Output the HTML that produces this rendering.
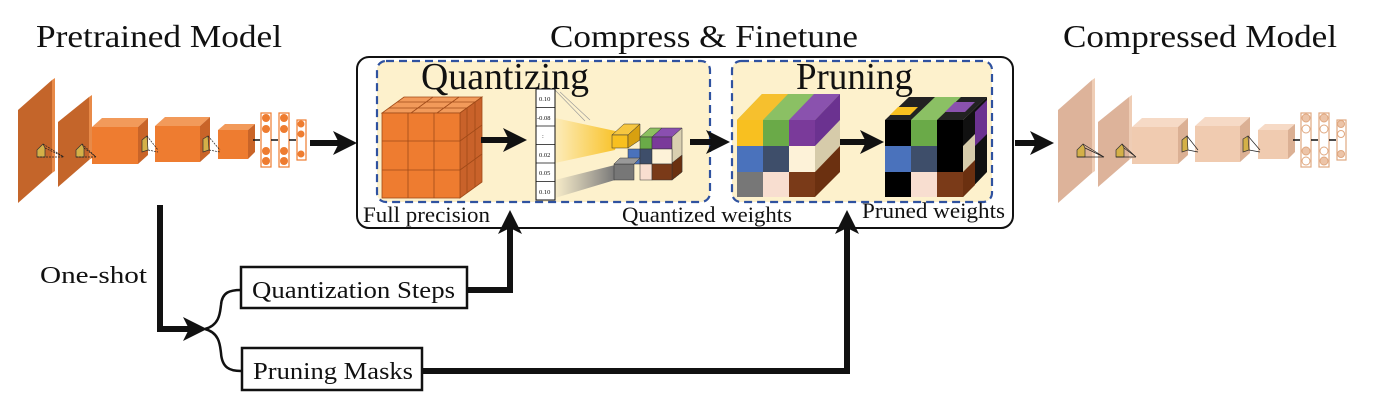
<!DOCTYPE html>
<html><head><meta charset="utf-8"><style>
html,body{margin:0;padding:0;background:#fff}
svg{display:block}
text{font-family:"Liberation Serif",serif;fill:#111}
</style></head><body>
<svg width="1388" height="408" viewBox="0 0 1388 408" xmlns="http://www.w3.org/2000/svg">
<defs>
<marker id="ah" markerWidth="4" markerHeight="4" refX="2" refY="2" orient="auto" markerUnits="strokeWidth"><path d="M0,0 L4,2 L0,4 L1,2 z" fill="#111"/></marker>
<linearGradient id="gy" x1="0" x2="1"><stop offset="0" stop-color="#f8c020" stop-opacity="0.1"/><stop offset="1" stop-color="#f8c020"/></linearGradient>
<linearGradient id="gg" x1="0" x2="1"><stop offset="0" stop-color="#888" stop-opacity="0.05"/><stop offset="1" stop-color="#777"/></linearGradient>
</defs>

<!-- titles -->
<text x="36" y="47" font-size="32" textLength="246" lengthAdjust="spacingAndGlyphs">Pretrained Model</text>
<text x="550" y="47" font-size="32" textLength="308" lengthAdjust="spacingAndGlyphs">Compress &amp; Finetune</text>
<text x="1063" y="47" font-size="32" textLength="274" lengthAdjust="spacingAndGlyphs">Compressed Model</text>

<!-- left CNN -->
<g>
 <polygon points="18,110 52,80 52,173 18,203" fill="#c4652a"/>
 <polygon points="52,80 55,78 55,171 52,173" fill="#e88a48"/>
 <polygon points="58,122 89,97 89,160 58,187" fill="#c4652a"/>
 <polygon points="89,97 92,95 92,158 89,160" fill="#e88a48"/>
 <rect x="92" y="127" width="46" height="37" fill="#ee7c30"/>
 <polygon points="92,127 102,118 148,118 138,127" fill="#f29a5a"/>
 <polygon points="138,127 148,118 148,155 138,164" fill="#c96428"/>
 <rect x="155" y="126" width="45" height="36" fill="#ee7c30"/>
 <polygon points="155,126 165,117 210,117 200,126" fill="#f29a5a"/>
 <polygon points="200,126 210,117 210,153 200,162" fill="#c96428"/>
 <rect x="218" y="130" width="30" height="29" fill="#ee7c30"/>
 <polygon points="218,130 225,124 255,124 248,130" fill="#f29a5a"/>
 <polygon points="248,130 255,124 255,152 248,159" fill="#c96428"/>
 <g fill="#d4b048" stroke="#333" stroke-width="0.7">
  <polygon points="37,150 43,144 45,148 45,157 37,157"/>
  <polygon points="76,150 82,144 84,148 84,157 76,157"/>
  <polygon points="142,140 147,136 148,150 142,152"/>
  <polygon points="203,139 208,136 209,150 203,152"/>
 </g>
 <g stroke="#222" stroke-width="0.7" fill="none" stroke-dasharray="2,1">
  <path d="M43,144 L64,157 M45,148 L64,157 M37,157 L64,157"/>
  <path d="M82,144 L96,157 M84,148 L96,157 M76,157 L96,157"/>
  <path d="M147,136 L158,150 M148,150 L158,152"/>
  <path d="M208,136 L220,150 M209,150 L220,152"/>
 </g>
 <g fill="#fff" stroke="#ee7c30" stroke-width="1.2">
  <rect x="261" y="113" width="10" height="54"/><rect x="279" y="113" width="10" height="54"/><rect x="297" y="120" width="9" height="40"/>
 </g>
 <g fill="#ee7c30">
  <circle cx="266" cy="118" r="4"/><circle cx="266" cy="129" r="4"/><circle cx="266" cy="151" r="4"/><circle cx="266" cy="161" r="4"/>
  <circle cx="284" cy="118" r="4"/><circle cx="284" cy="129" r="4"/><circle cx="284" cy="151" r="4"/><circle cx="284" cy="161" r="4"/>
  <circle cx="301" cy="124" r="3.5"/><circle cx="301" cy="134" r="3.5"/><circle cx="301" cy="154" r="3.5"/>
 </g>
 <g stroke="#111" stroke-width="1.5"><path d="M253,140 L260,140 M271,140 L278,140 M289,140 L296,140"/></g>
</g>
<line x1="310" y1="143" x2="345" y2="143" stroke="#111" stroke-width="6" marker-end="url(#ah)"/>

<!-- right CNN -->
<g transform="translate(1040,0)">
 <polygon points="18,110 52,80 52,173 18,203" fill="#ddb39a"/>
 <polygon points="52,80 55,78 55,171 52,173" fill="#efcdb5"/>
 <polygon points="58,122 89,97 89,160 58,187" fill="#ddb39a"/>
 <polygon points="89,97 92,95 92,158 89,160" fill="#efcdb5"/>
 <rect x="92" y="127" width="46" height="37" fill="#f0cbb0"/>
 <polygon points="92,127 102,118 148,118 138,127" fill="#f6dac6"/>
 <polygon points="138,127 148,118 148,155 138,164" fill="#dbb094"/>
 <rect x="155" y="126" width="45" height="36" fill="#f0cbb0"/>
 <polygon points="155,126 165,117 210,117 200,126" fill="#f6dac6"/>
 <polygon points="200,126 210,117 210,153 200,162" fill="#dbb094"/>
 <rect x="218" y="130" width="30" height="29" fill="#f0cbb0"/>
 <polygon points="218,130 225,124 255,124 248,130" fill="#f6dac6"/>
 <polygon points="248,130 255,124 255,152 248,159" fill="#dbb094"/>
 <g fill="#d4b048" stroke="#333" stroke-width="0.7">
  <polygon points="37,150 43,144 45,148 45,157 37,157"/>
  <polygon points="76,150 82,144 84,148 84,157 76,157"/>
  <polygon points="142,140 147,136 148,150 142,152"/>
  <polygon points="203,139 208,136 209,150 203,152"/>
 </g>
 <g stroke="#222" stroke-width="0.7" fill="none">
  <path d="M43,144 L64,157 M45,148 L64,157 M37,157 L64,157"/>
  <path d="M82,144 L96,157 M84,148 L96,157 M76,157 L96,157"/>
  <path d="M147,136 L158,150 M148,150 L158,152"/>
  <path d="M208,136 L220,150 M209,150 L220,152"/>
 </g>
 <g fill="#fff" stroke="#e0a880" stroke-width="1.2">
  <rect x="261" y="113" width="10" height="54"/><rect x="279" y="113" width="10" height="54"/><rect x="297" y="120" width="9" height="40"/>
 </g>
 <g fill="#fff" stroke="#e0a880" stroke-width="1">
  <circle cx="266" cy="118" r="4" fill="#ecc4a8"/><circle cx="266" cy="129" r="4"/><circle cx="266" cy="151" r="4" fill="#ecc4a8"/><circle cx="266" cy="161" r="4"/>
  <circle cx="284" cy="118" r="4" fill="#ecc4a8"/><circle cx="284" cy="129" r="4"/><circle cx="284" cy="151" r="4"/><circle cx="284" cy="161" r="4" fill="#ecc4a8"/>
  <circle cx="301" cy="124" r="3.5" fill="#ecc4a8"/><circle cx="301" cy="134" r="3.5"/><circle cx="301" cy="154" r="3.5" fill="#ecc4a8"/>
 </g>
 <g stroke="#111" stroke-width="1.5"><path d="M253,140 L260,140 M271,140 L278,140 M289,140 L296,140"/></g>
</g>
<line x1="1015" y1="143" x2="1042" y2="143" stroke="#111" stroke-width="6" marker-end="url(#ah)"/>

<!-- main box -->
<rect x="357" y="57" width="656" height="171" rx="12" fill="#fff" stroke="#111" stroke-width="2"/>
<rect x="377" y="61" width="333" height="141" rx="9" fill="#fdf1cc" stroke="#2f52a0" stroke-width="2.2" stroke-dasharray="8,5"/>
<rect x="732" y="61" width="260" height="141" rx="9" fill="#fdf1cc" stroke="#2f52a0" stroke-width="2.2" stroke-dasharray="8,5"/>
<text x="421" y="89" font-size="38" textLength="168" lengthAdjust="spacingAndGlyphs">Quantizing</text>
<text x="796" y="89" font-size="38" textLength="117" lengthAdjust="spacingAndGlyphs">Pruning</text>

<!-- quant cube -->
<g stroke="#a04a18" stroke-width="0.8">
 <polygon points="382,113 460,113 482,97 404,97" fill="#f29a5a"/>
 <polygon points="460,113 482,97 482,182 460,198" fill="#c9622a"/>
 <rect x="382" y="113" width="78" height="85" fill="#ee7c30"/>
 <path d="M408,113 L408,198 M434,113 L434,198 M382,141 L460,141 M382,170 L460,170 M389,108 L467,108 M397,102 L475,102 M411,113 L433,97 M437,113 L459,97 M460,141 L482,125 M460,170 L482,154 M467,108 L467,193 M475,102 L475,187" fill="none"/>
</g>
<line x1="481" y1="140" x2="515" y2="140" stroke="#111" stroke-width="6" marker-end="url(#ah)"/>
<!-- beams -->
<polygon points="555,118 620,132 615,150 555,163" fill="url(#gy)"/>
<polygon points="555,180 615,165 615,180 555,198" fill="url(#gg)"/>
<path d="M555,90 L585,121 M560,92 L590,120" stroke="#999" stroke-width="0.6" fill="none"/>
<!-- value column -->
<rect x="536" y="89" width="19" height="111" fill="#fff" stroke="#111" stroke-width="1"/>
<g stroke="#111" stroke-width="0.8"><path d="M536,107.5 H555 M536,126 H555 M536,144.5 H555 M536,163 H555 M536,181.5 H555"/></g>
<g font-size="6.5" style="font-family:'Liberation Sans',sans-serif">
 <text x="539" y="101">0.10</text><text x="537" y="120">-0.08</text><text x="542" y="138" fill="#aaa">:</text>
 <text x="539" y="157">0.02</text><text x="539" y="175">0.05</text><text x="539" y="194">0.10</text>
</g>
<!-- small cube -->
<g stroke="#333" stroke-width="0.5">
 <polygon points="612,135 628,135 640,124 624,124" fill="#f6c640"/>
 <rect x="612" y="135" width="16" height="13" fill="#f8c020"/>
 <polygon points="628,135 640,124 640,140 628,148" fill="#d8a010"/>
 <polygon points="640,137 652,137 662,128 650,128" fill="#8cc060"/>
 <polygon points="652,137 672,137 682,128 662,128" fill="#8a4fb0"/>
 <rect x="640" y="137" width="12" height="12" fill="#6aaa48"/>
 <rect x="652" y="137" width="20" height="12" fill="#7a3a9a"/>
 <polygon points="672,137 682,128 682,172 672,180" fill="#d9cfb0"/>
 <polygon points="672,163 682,155 682,172 672,180" fill="#6a3010"/>
 <rect x="628" y="149" width="12" height="15" fill="#4a72bc"/>
 <rect x="640" y="149" width="12" height="15" fill="#3e4e6a"/>
 <rect x="652" y="149" width="20" height="15" fill="#fdf2d8"/>
 <rect x="640" y="164" width="12" height="16" fill="#f8ded0"/>
 <rect x="652" y="164" width="20" height="16" fill="#7a3a18"/>
 <rect x="614" y="164" width="20" height="16" fill="#777"/>
 <polygon points="614,164 620,158 640,158 634,164" fill="#999"/>
</g>
<line x1="690" y1="142" x2="718" y2="142" stroke="#111" stroke-width="6" marker-end="url(#ah)"/>

<!-- pruning cube 1 -->
<g>
 <polygon points="737,120 815,120 840,94 762,94" fill="#8bc064"/>
 <polygon points="737,120 763,120 788,94 762,94" fill="#f6c02e"/>
 <polygon points="789,120 815,120 840,94 814,94" fill="#8a52ae"/>
 <polygon points="815,120 840,94 840,146 815,172" fill="#6b3290"/>
 <polygon points="815,146 840,120 840,172 815,197" fill="#d6cbaa"/>
 <polygon points="815,172 840,146 840,172 815,197" fill="#6b3010"/>
 <rect x="737" y="120" width="26" height="26" fill="#f8c020"/>
 <rect x="763" y="120" width="26" height="26" fill="#6aaa48"/>
 <rect x="789" y="120" width="26" height="26" fill="#7a3a9a"/>
 <rect x="737" y="146" width="26" height="26" fill="#4a72bc"/>
 <rect x="763" y="146" width="26" height="26" fill="#3e4e6a"/>
 <rect x="789" y="146" width="26" height="26" fill="#fdf2d8"/>
 <rect x="737" y="172" width="26" height="25" fill="#777"/>
 <rect x="763" y="172" width="26" height="25" fill="#f8ded0"/>
 <rect x="789" y="172" width="26" height="25" fill="#7a3a18"/>
</g>
<line x1="840" y1="142" x2="872" y2="142" stroke="#111" stroke-width="6" marker-end="url(#ah)"/>
<!-- pruning cube 2 -->
<g>
 <polygon points="885,120 963,120 987,97 909,97" fill="#222"/>
 <polygon points="911,120 937,120 961,97 935,97" fill="#8bc064"/>
 <polygon points="890,115 910,115 918,107 898,107" fill="#f8c020"/>
 <polygon points="945,112 965,112 975,102 955,102" fill="#8a52ae"/>
 <polygon points="963,120 987,97 987,172 963,197" fill="#111"/>
 <polygon points="963,146 975,134 975,172 963,184" fill="#d6cbaa"/>
 <polygon points="963,172 975,160 975,185 963,197" fill="#6b3010"/>
 <polygon points="975,112 987,100 987,134 975,146" fill="#6b3290"/>
 <rect x="885" y="120" width="78" height="77" fill="#000"/>
 <rect x="911" y="120" width="26" height="26" fill="#6aaa48"/>
 <rect x="885" y="146" width="26" height="26" fill="#4a72bc"/>
 <rect x="911" y="146" width="26" height="26" fill="#3e4e6a"/>
 <rect x="911" y="172" width="26" height="25" fill="#f8ded0"/>
 <rect x="937" y="172" width="26" height="25" fill="#7a3a18"/>
</g>

<!-- labels in box -->
<text x="363" y="222" font-size="22" textLength="127" lengthAdjust="spacingAndGlyphs">Full precision</text>
<text x="622" y="222" font-size="22" textLength="170" lengthAdjust="spacingAndGlyphs">Quantized weights</text>
<text x="862" y="218" font-size="22" textLength="143" lengthAdjust="spacingAndGlyphs">Pruned weights</text>

<!-- bottom flow -->
<text x="40" y="283" font-size="24" textLength="107" lengthAdjust="spacingAndGlyphs">One-shot</text>
<polyline points="160,205 160,329 195,329" fill="none" stroke="#111" stroke-width="6" marker-end="url(#ah)"/>
<path d="M205,329 C220,325 220,312 221,305 C222,292 230,290 241,290" fill="none" stroke="#111" stroke-width="2.5"/>
<path d="M205,329 C220,333 220,346 221,353 C222,368 230,371 241,371" fill="none" stroke="#111" stroke-width="2.5"/>
<rect x="241" y="267" width="226" height="41" fill="#fff" stroke="#111" stroke-width="2.5"/>
<text x="252" y="298" font-size="24" textLength="203" lengthAdjust="spacingAndGlyphs">Quantization Steps</text>
<rect x="242" y="348" width="180" height="42" fill="#fff" stroke="#111" stroke-width="2.5"/>
<text x="253" y="379" font-size="24" textLength="160" lengthAdjust="spacingAndGlyphs">Pruning Masks</text>
<polyline points="467,290 510,290 510,222" fill="none" stroke="#111" stroke-width="6" marker-end="url(#ah)"/>
<polyline points="422,371 847,371 847,222" fill="none" stroke="#111" stroke-width="6" marker-end="url(#ah)"/>
</svg>
</body></html>
